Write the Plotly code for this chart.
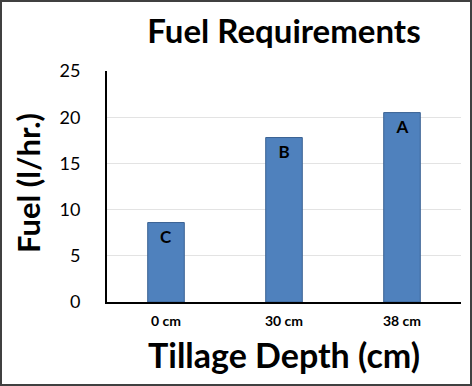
import plotly.graph_objects as go

categories = ["0 cm", "30 cm", "38 cm"]
fuel = [8.6, 17.8, 20.5]
letters = ["C", "B", "A"]
y_ticks = [0, 5, 10, 15, 20, 25]

W, H = 472, 386
L, R, T, B = 107, 11, 71, 84
pw, ph = W - L - R, H - T - B

fig = go.Figure(go.Bar(
    x=categories, y=fuel, text=letters,
    textposition="inside", insidetextanchor="end",
    textfont=dict(family="Lato", size=17, color="black", weight="bold"),
    marker=dict(color="#4F81BD", line=dict(color="#3A6293", width=1)),
    width=0.31, cliponaxis=False,
))

fig.update_layout(
    width=W, height=H,
    margin=dict(l=L, r=R, t=T, b=B, autoexpand=False),
    paper_bgcolor="white", plot_bgcolor="white",
    showlegend=False,
    title=dict(text="<b>Fuel Requirements</b>", x=(L + pw / 2) / W, xanchor="center",
               y=1 - 31 / H, yanchor="middle",
               font=dict(family="Lato", size=33, color="black")),
    xaxis=dict(
        automargin=False,
        showline=True, linecolor="black", linewidth=2, ticks="",
        tickfont=dict(family="Lato", size=14, color="black", weight="bold"),
        ticklabelstandoff=5,
        title=dict(text="<b>Tillage Depth (cm)</b>", font=dict(family="Lato", size=34, color="black"),
                   standoff=16),
        showgrid=False,
    ),
    yaxis=dict(
        automargin=False,
        range=[0, 25], tickvals=y_ticks,
        showline=True, linecolor="black", linewidth=2, ticks="",
        showgrid=True, gridcolor="#E3E3E3", gridwidth=1,
        tickfont=dict(family="Lato", size=18, color="black"),
        ticklabelstandoff=21,
        zeroline=False,
    ),
    annotations=[dict(
        text="<b>Fuel (l/hr.)</b>", textangle=-90,
        xref="paper", yref="paper",
        x=-(L - 28) / pw, y=(H - B - 183) / ph,
        xanchor="center", yanchor="middle", showarrow=False,
        font=dict(family="Lato", size=31, color="black"),
    )],
)

fig.add_shape(type="rect", xref="paper", yref="paper",
              x0=-(L - 1) / pw, x1=1 + (R - 1) / pw,
              y0=-(B - 1) / ph, y1=1 + (T - 1) / ph,
              line=dict(color="#404040", width=2), fillcolor="rgba(0,0,0,0)")

fig.write_html("out.html", config={"displayModeBar": False},
               post_script="document.body.style.margin='0px';")
